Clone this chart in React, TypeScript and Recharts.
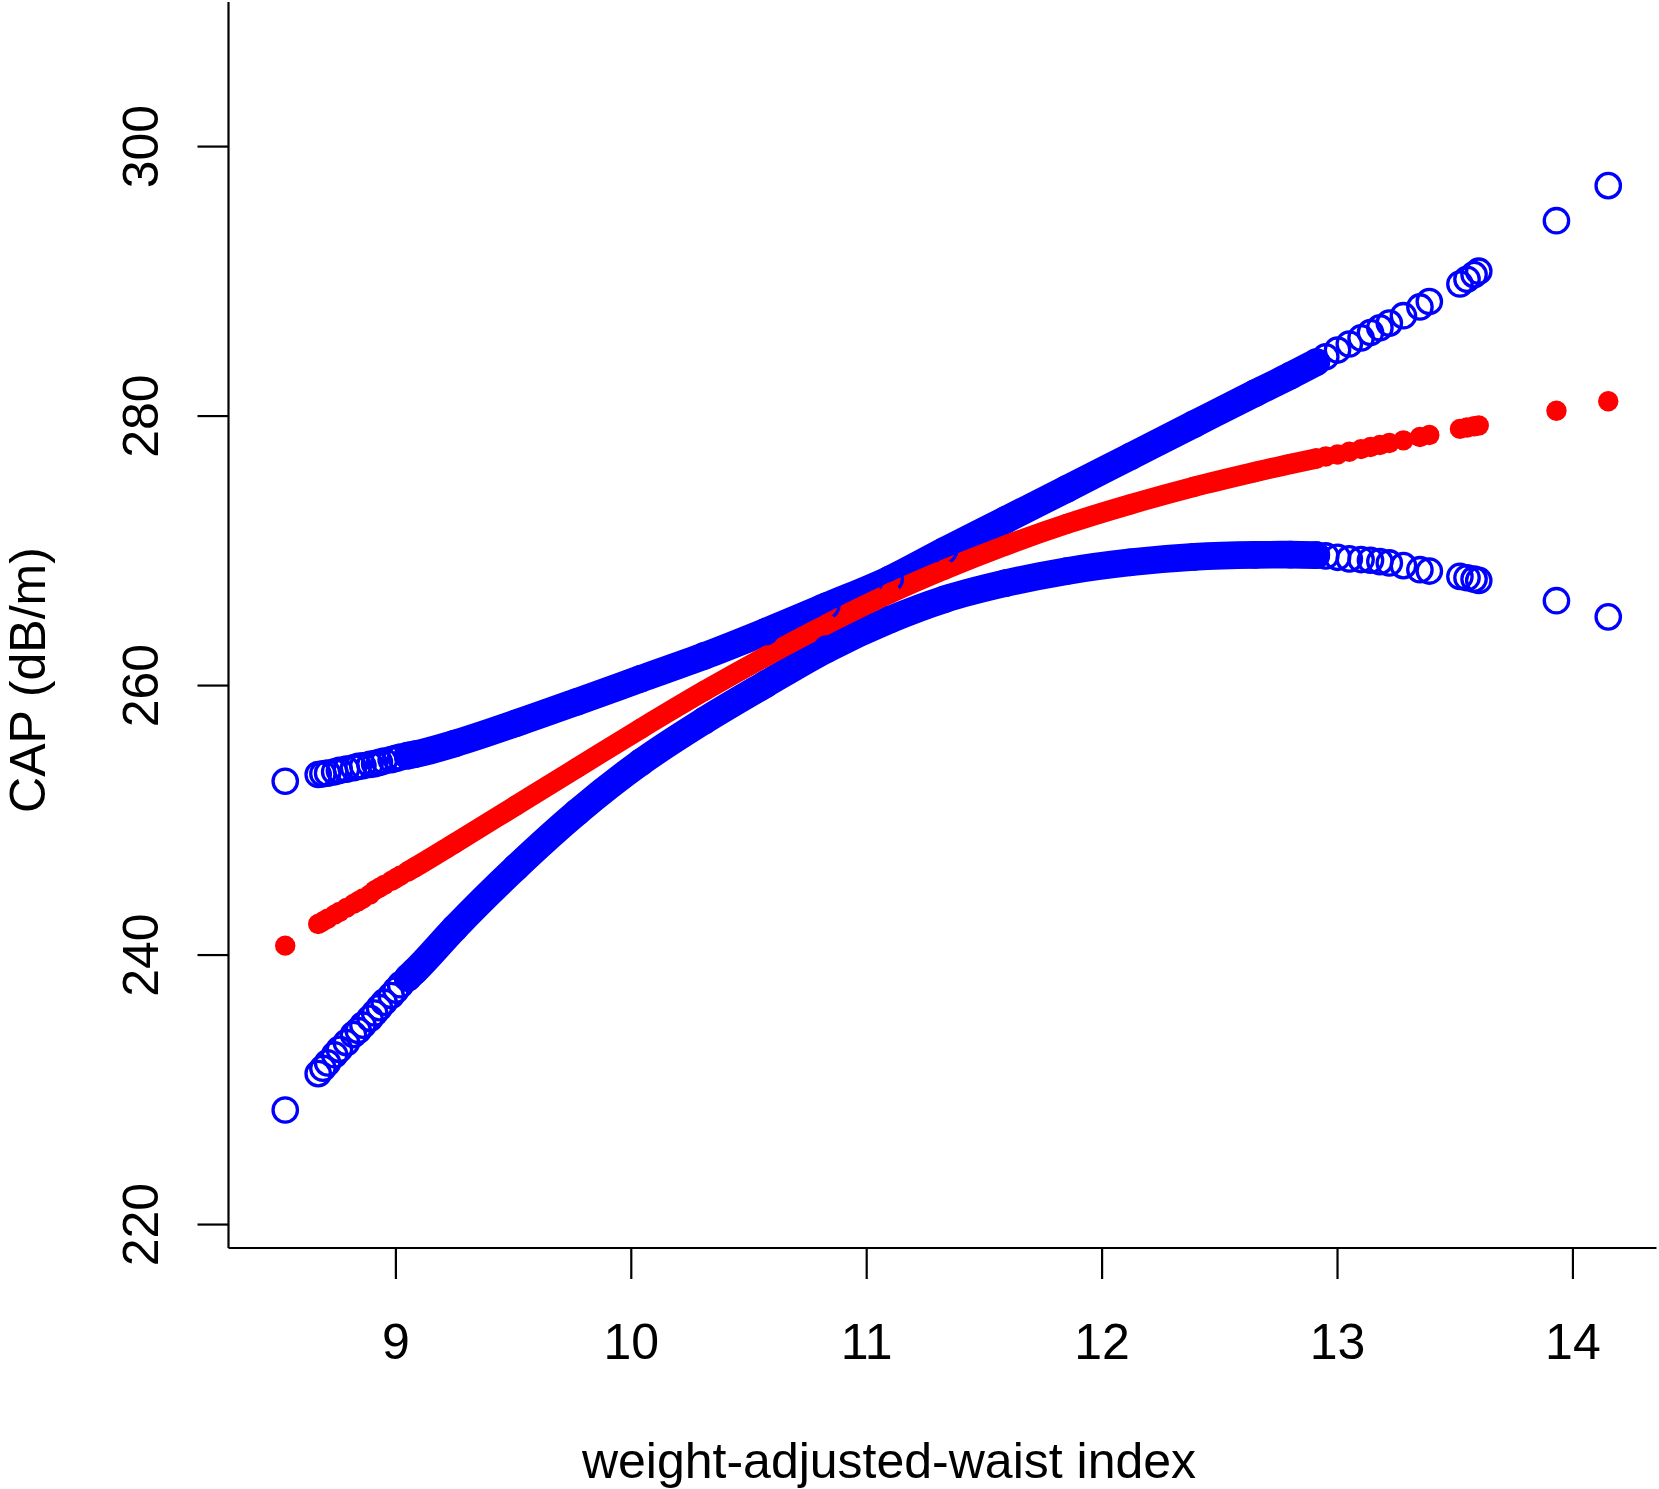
import React from 'react';
import { ComposedChart, Scatter, Line, XAxis, YAxis } from 'recharts';

// weight-adjusted-waist index (x) values
const wwi = [
  8.53, 8.67, 8.69, 8.71, 8.74, 8.76, 8.79, 8.82, 8.84, 8.86, 8.89, 8.91, 8.93, 8.95, 8.98, 9.0, 9.02, 9.05, 9.08,
  9.25, 9.51, 9.77, 10.04, 10.31, 10.57, 10.83, 11.1, 11.33, 11.59, 11.85, 12.12, 12.39, 12.65, 12.8, 12.91,
  12.95, 13.0, 13.05, 13.1, 13.14, 13.18, 13.22, 13.28, 13.35, 13.39, 13.52, 13.55, 13.58, 13.6,
  13.93, 14.15,
];

// upper confidence limit (blue)
const capUpper = [
  252.9, 253.4, 253.45, 253.5, 253.6, 253.7, 253.8, 253.9, 254.0, 254.05, 254.15, 254.2, 254.3, 254.4, 254.5, 254.6, 254.7, 254.8, 254.9,
  255.7, 257.2, 258.8, 260.5, 262.2, 264.0, 265.9, 267.9, 270.0, 272.3, 274.6, 277.0, 279.4, 281.7, 283.0, 284.0,
  284.4, 284.9, 285.35, 285.8, 286.2, 286.55, 286.9, 287.45, 288.1, 288.5, 289.8, 290.15, 290.5, 290.75,
  294.5, 297.1,
];

// fitted CAP (red)
const capFit = [
  240.7, 242.3, 242.5, 242.7, 243.0, 243.2, 243.5, 243.8, 244.0, 244.2, 244.5, 244.8, 245.0, 245.2, 245.5, 245.7, 245.9, 246.2, 246.5,
  248.3, 251.1, 253.9, 256.8, 259.6, 262.15, 264.55, 266.85, 268.6, 270.4, 272.0, 273.45, 274.75, 275.85, 276.45, 276.85,
  277.0, 277.15, 277.35, 277.55, 277.7, 277.85, 278.0, 278.2, 278.45, 278.6, 279.05, 279.15, 279.25, 279.3,
  280.4, 281.1,
];

// lower confidence limit (blue)
const capLower = [
  228.5, 231.2, 231.6, 232.0, 232.6, 233.0, 233.5, 234.1, 234.4, 234.8, 235.3, 235.7, 236.1, 236.5, 237.0, 237.4, 237.8, 238.3, 238.8,
  242.0, 246.5, 250.6, 254.3, 257.4, 260.1, 262.7, 264.9, 266.4, 267.6, 268.5, 269.15, 269.55, 269.7, 269.72, 269.68,
  269.62, 269.52, 269.4, 269.35, 269.3, 269.2, 269.1, 268.9, 268.6, 268.5, 268.1, 268.0, 267.9, 267.8,
  266.3, 265.1,
];

const xTicks = [9, 10, 11, 12, 13, 14];
const yTicks = [220, 240, 260, 280, 300];
const xDomain = [8.289, 14.355];
const yDomain = [218.26, 310.73];

const rows = wwi.map((x, i) => ({ x, fit: capFit[i], lower: capLower[i], upper: capUpper[i] }));
// the densely observed part, where overlapping markers merge into a solid band
const denseRows = rows.filter((r) => r.x >= 9.05 && r.x <= 12.91);

const FONT = '"Liberation Sans", Arial, Helvetica, sans-serif';
const BLUE = '#0000FF';
const RED = '#FF0000';

const OpenCircle = (p: any) => (
  <circle cx={p.cx} cy={p.cy} r={12.2} fill="none" stroke={BLUE} strokeWidth={3.3} />
);
const FilledCircle = (p: any) => <circle cx={p.cx} cy={p.cy} r={10.2} fill={RED} stroke="none" />;

const XTick = (p: any) => (
  <text x={p.x} y={1359} textAnchor="middle" fontSize={50} fontFamily={FONT} fill="#000">
    {p.payload.value}
  </text>
);

const YTick = (p: any) => (
  <text
    x={158}
    y={p.y}
    transform={`rotate(-90, 158, ${p.y})`}
    textAnchor="middle"
    fontSize={50}
    fontFamily={FONT}
    fill="#000"
  >
    {p.payload.value}
  </text>
);

const XLabel = () => (
  <text x={889} y={1478} textAnchor="middle" fontSize={50} fontFamily={FONT} fill="#000">
    weight-adjusted-waist index
  </text>
);

const YLabel = () => (
  <text
    x={45}
    y={680}
    transform="rotate(-90, 45, 680)"
    textAnchor="middle"
    fontSize={50}
    fontFamily={FONT}
    fill="#000"
  >
    CAP (dB/m)
  </text>
);

const axisStroke = { stroke: '#000', strokeWidth: 2.2 };

export default function App() {
  return (
    <div style={{ position: 'absolute', left: 0, top: 0, background: '#fff' }}>
      <ComposedChart
        width={1659}
        height={1489}
        data={denseRows}
        margin={{ top: 2, right: 2.5, left: 0, bottom: 181 }}
      >
        <XAxis
          type="number"
          dataKey="x"
          domain={xDomain}
          ticks={xTicks}
          height={60}
          tickSize={31}
          axisLine={axisStroke}
          tickLine={axisStroke}
          tick={<XTick />}
          label={{ content: () => <XLabel /> }}
        />
        <XAxis
          xAxisId="top"
          orientation="top"
          type="number"
          domain={xDomain}
          height={0}
          tick={false}
          tickLine={false}
          axisLine={axisStroke}
        />
        <YAxis
          type="number"
          domain={yDomain}
          ticks={yTicks}
          width={228.5}
          tickSize={31}
          axisLine={axisStroke}
          tickLine={axisStroke}
          tick={<YTick />}
          label={{ content: () => <YLabel /> }}
        />
        <YAxis
          yAxisId="right"
          orientation="right"
          type="number"
          domain={yDomain}
          width={0}
          tick={false}
          tickLine={false}
          axisLine={axisStroke}
        />

        <Line
          dataKey="upper"
          type="monotone"
          stroke={BLUE}
          strokeWidth={27.6}
          strokeLinecap="round"
          strokeLinejoin="round"
          dot={false}
          activeDot={false}
          isAnimationActive={false}
        />
        <Scatter data={rows} dataKey="upper" shape={OpenCircle} isAnimationActive={false} />

        <Line
          dataKey="lower"
          type="monotone"
          stroke={BLUE}
          strokeWidth={27.6}
          strokeLinecap="round"
          strokeLinejoin="round"
          dot={false}
          activeDot={false}
          isAnimationActive={false}
        />
        <Scatter data={rows} dataKey="lower" shape={OpenCircle} isAnimationActive={false} />

        <Line
          dataKey="fit"
          type="monotone"
          stroke={RED}
          strokeWidth={20.4}
          strokeLinecap="round"
          strokeLinejoin="round"
          dot={false}
          activeDot={false}
          isAnimationActive={false}
        />
        <Scatter data={rows} dataKey="fit" shape={FilledCircle} isAnimationActive={false} />
      </ComposedChart>
    </div>
  );
}
